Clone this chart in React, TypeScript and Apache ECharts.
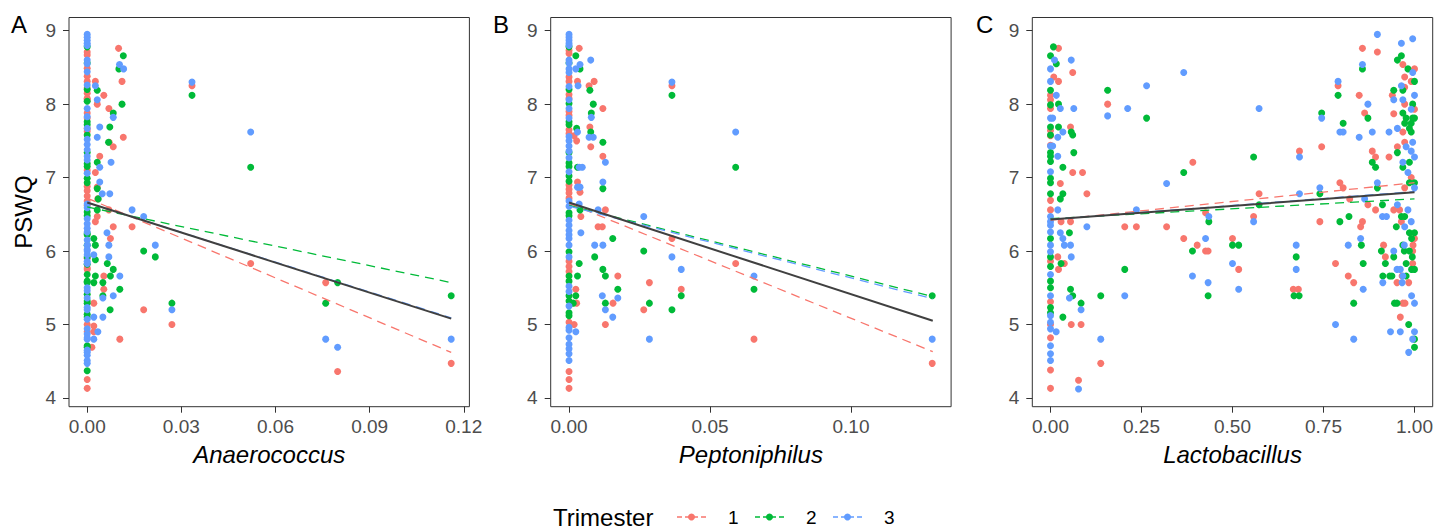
import React, { useEffect, useRef } from "react";
import * as echarts from "echarts";

const FONT = "'Liberation Sans', Arial, Helvetica, sans-serif";

// ---------- labels / scales ----------
const trimesters = ["1", "2", "3"];
const trimesterColors = ["#F8766D", "#00BA38", "#619CFF"];
const panelLetters = ["A", "B", "C"];
const genusNames = ["Anaerococcus", "Peptoniphilus", "Lactobacillus"];
const yName = "PSWQ";
const legendTitle = "Trimester";
const yTicks = [4, 5, 6, 7, 8, 9];
const yRange = [3.88, 9.18];
const xTicksA = [0, 0.03, 0.06, 0.09, 0.12];
const xTicksB = [0, 0.05, 0.1];
const xTicksC = [0, 0.25, 0.5, 0.75, 1];
const xRangeA = [-0.0058, 0.1218];
const xRangeB = [-0.0065, 0.1355];
const xRangeC = [-0.05, 1.05];

// ---------- Panel A : Anaerococcus ----------
const zeroA1 = [8.71, 8.67, 8.49, 8.38, 8.31, 8.22, 8.15, 8.08, 8.06, 7.88, 7.81, 7.67, 7.63, 7.1, 6.88, 6.82, 6.75, 6.68, 6.62, 5.9, 5.77, 5.75, 5.0, 4.9, 4.25, 4.13];
const zeroA2 = [8.78, 8.56, 8.2, 8.04, 7.76, 7.72, 7.58, 7.34, 7.19, 7.15, 6.99, 6.93, 6.53, 6.48, 6.24, 6.22, 6.08, 5.92, 5.82, 5.68, 5.59, 5.57, 5.41, 5.32, 5.29, 5.14, 5.1, 4.71, 4.69, 4.37];
const zeroA3 = [8.95, 8.91, 8.87, 8.83, 8.8, 8.6, 8.55, 8.44, 8.26, 7.94, 7.83, 7.67, 7.52, 7.45, 7.38, 7.29, 7.24, 7.06, 6.64, 6.59, 6.44, 6.37, 6.31, 6.26, 6.15, 6.08, 6.02, 6.0, 5.95, 5.86, 5.83, 5.5, 5.46, 5.36, 5.23, 5.2, 5.07, 4.94, 4.87, 4.82, 4.8, 4.65, 4.62, 4.58, 4.51, 4.47];
const ptsA1 = [[0.0026, 8.31], [0.0053, 8.12], [0.0032, 8.0], [0.0069, 7.94], [0.0026, 7.07], [0.004, 7.29], [0.0032, 6.87], [0.0034, 6.71], [0.0069, 6.56], [0.0032, 6.47], [0.0026, 6.4], [0.0083, 6.33], [0.0074, 6.17], [0.0053, 5.66], [0.0053, 5.48], [0.0021, 5.29], [0.0021, 4.98], [0.0015, 4.69], [0.0021, 4.9], [0.01, 8.76], [0.0111, 8.31], [0.0115, 7.55], [0.007, 7.48], [0.0083, 7.42], [0.0143, 6.33], [0.0104, 4.8], [0.018, 5.2], [0.027, 5.0], [0.0334, 8.25], [0.0521, 5.83], [0.076, 5.57], [0.0798, 4.36], [0.116, 4.47]];
const ptsA2 = [[0.0032, 8.19], [0.0083, 7.88], [0.0072, 7.69], [0.0068, 7.48], [0.0032, 7.21], [0.0032, 6.85], [0.0035, 6.71], [0.0032, 6.56], [0.0021, 6.17], [0.0026, 6.08], [0.0026, 5.88], [0.0064, 5.83], [0.0083, 5.75], [0.0074, 5.66], [0.0026, 5.66], [0.0021, 5.57], [0.005, 5.57], [0.0104, 5.48], [0.005, 5.39], [0.0073, 5.2], [0.0115, 8.66], [0.0101, 8.48], [0.0111, 8.0], [0.0334, 8.12], [0.0521, 7.14], [0.018, 6.0], [0.0217, 5.92], [0.027, 5.29], [0.076, 5.29], [0.0798, 5.57], [0.116, 5.39]];
const ptsA3 = [[0.0026, 8.25], [0.0032, 8.06], [0.0083, 7.82], [0.004, 7.69], [0.0032, 7.55], [0.0076, 7.21], [0.004, 7.14], [0.004, 6.94], [0.0048, 6.78], [0.0072, 6.78], [0.0063, 6.25], [0.0069, 6.08], [0.0069, 5.92], [0.0021, 5.95], [0.0104, 5.66], [0.0083, 5.39], [0.005, 5.36], [0.005, 5.1], [0.0021, 5.1], [0.0034, 4.9], [0.0021, 4.8], [0.0103, 8.54], [0.0116, 8.48], [0.0334, 8.3], [0.0521, 7.62], [0.0143, 6.56], [0.018, 6.47], [0.0217, 6.08], [0.027, 5.2], [0.076, 4.8], [0.0798, 4.69], [0.116, 4.8]];
const fitA1 = [[0, 6.72], [0.116, 4.62]];
const fitA2 = [[0, 6.6], [0.116, 5.57]];
const fitA3 = [[0, 6.66], [0.116, 5.09]];
const fitAAll = [[0, 6.66], [0.116, 5.08]];

// ---------- Panel B : Peptoniphilus ----------
const zeroB1 = [8.73, 8.69, 8.37, 8.31, 8.13, 8.08, 7.9, 7.85, 7.65, 7.6, 6.9, 6.84, 6.79, 6.72, 5.86, 5.79, 5.72, 5.03, 4.36, 4.25, 4.13];
const zeroB2 = [8.78, 8.56, 8.2, 8.01, 7.76, 7.72, 7.34, 7.2, 7.15, 7.02, 6.95, 6.52, 6.48, 5.99, 5.66, 5.59, 5.39, 5.32, 5.16, 5.12];
const zeroB3 = [8.95, 8.91, 8.87, 8.83, 8.8, 8.6, 8.56, 8.48, 8.43, 8.24, 8.06, 7.94, 7.81, 7.56, 7.5, 7.43, 7.36, 7.27, 7.08, 6.68, 6.61, 6.42, 6.35, 6.28, 6.22, 6.17, 6.08, 5.92, 5.52, 5.45, 5.25, 4.96, 4.92, 4.82, 4.73, 4.67, 4.6, 4.51];
const ptsB1 = [[0.0036, 8.76], [0.003, 8.31], [0.0071, 8.25], [0.0089, 8.31], [0.012, 7.94], [0.0074, 7.69], [0.0077, 7.42], [0.012, 7.29], [0.0129, 6.56], [0.0103, 6.33], [0.0118, 6.33], [0.0018, 7.57], [0.0027, 7.5], [0.003, 6.94], [0.0039, 6.8], [0.0042, 6.47], [0.0024, 5.48], [0.0027, 5.29], [0.0018, 5.0], [0.0156, 5.29], [0.0129, 5.0], [0.0173, 5.66], [0.0365, 8.25], [0.0365, 6.17], [0.0591, 5.83], [0.0656, 4.8], [0.0285, 5.57], [0.0265, 5.2], [0.0398, 5.48], [0.1288, 4.47]];
const ptsB2 = [[0.0024, 8.66], [0.0039, 8.48], [0.0074, 8.19], [0.0086, 8.0], [0.0079, 7.88], [0.0077, 7.62], [0.012, 7.48], [0.012, 6.85], [0.0155, 6.17], [0.0027, 7.67], [0.003, 7.14], [0.0039, 6.56], [0.0036, 5.83], [0.003, 5.66], [0.0024, 5.39], [0.0015, 5.29], [0.0091, 5.92], [0.012, 5.75], [0.0129, 5.66], [0.0129, 5.29], [0.0173, 5.48], [0.0365, 8.12], [0.0591, 7.14], [0.0265, 6.0], [0.0285, 5.29], [0.0365, 5.2], [0.0398, 5.39], [0.0656, 5.48], [0.1288, 5.39]];
const ptsB3 = [[0.0039, 8.54], [0.0024, 8.48], [0.0077, 8.6], [0.0032, 8.25], [0.0079, 7.82], [0.0071, 7.55], [0.0086, 7.55], [0.0129, 7.21], [0.012, 6.94], [0.0103, 6.56], [0.0091, 6.08], [0.012, 6.08], [0.003, 7.62], [0.0036, 7.14], [0.0047, 7.14], [0.003, 6.87], [0.0039, 6.87], [0.0036, 6.64], [0.0042, 6.25], [0.0118, 5.39], [0.0129, 5.2], [0.0155, 5.1], [0.0173, 5.36], [0.0024, 4.9], [0.0365, 8.3], [0.0591, 7.62], [0.0265, 6.47], [0.0365, 5.92], [0.0398, 5.75], [0.0656, 5.66], [0.0285, 4.8], [0.1288, 4.8]];
const fitB1 = [[0, 6.65], [0.129, 4.63]];
const fitB2 = [[0, 6.62], [0.129, 5.38]];
const fitB3 = [[0, 6.61], [0.129, 5.35]];
const fitBAll = [[0, 6.66], [0.129, 5.05]];

// ---------- Panel C : Lactobacillus ----------
const zeroC1 = [8.12, 8.06, 7.94, 7.64, 7.57, 7.44, 6.69, 6.56, 5.86, 5.31, 5.0, 4.82, 4.38, 4.13];
const zeroC2 = [8.66, 8.19, 7.99, 7.69, 7.58, 7.34, 7.29, 7.22, 6.99, 6.93, 6.78, 6.17, 5.92, 5.79, 5.59, 5.5, 5.23, 5.16];
const zeroC3 = [8.48, 8.31, 7.81, 7.43, 7.08, 6.47, 6.4, 6.35, 6.26, 6.08, 5.99, 5.68, 5.39, 5.12, 5.03, 4.94, 4.71, 4.6, 4.51];
const ptsC1 = [[0.022, 8.76], [0.009, 8.37], [0.022, 8.31], [0.061, 8.43], [0.055, 7.69], [0.061, 7.07], [0.088, 7.07], [0.1, 6.78], [0.027, 6.92], [0.029, 6.4], [0.055, 6.4], [0.038, 5.83], [0.022, 5.75], [0.057, 5.0], [0.084, 5.0], [0.138, 4.47], [0.077, 4.24], [0.157, 8.0], [0.02, 5.92], [0.204, 6.33], [0.236, 6.33], [0.319, 6.33], [0.366, 6.17], [0.391, 7.21], [0.403, 6.08], [0.426, 6.0], [0.433, 6.0], [0.426, 6.52], [0.5, 6.17], [0.517, 5.75], [0.558, 6.47], [0.573, 6.78], [0.667, 5.48], [0.681, 5.48], [0.684, 7.36], [0.74, 6.4], [0.745, 7.42], [0.783, 5.83], [0.79, 8.25], [0.795, 6.93], [0.804, 6.86], [0.818, 5.66], [0.822, 6.71], [0.833, 5.57], [0.848, 8.12], [0.852, 6.33], [0.857, 6.4], [0.857, 8.76], [0.863, 7.88], [0.872, 6.63], [0.884, 7.36], [0.893, 7.28], [0.893, 6.56], [0.898, 8.71], [0.915, 6.08], [0.92, 5.92], [0.93, 7.28], [0.939, 8.12], [0.943, 7.87], [0.943, 6.56], [0.952, 5.57], [0.953, 7.42], [0.959, 6.56], [0.961, 5.1], [0.964, 6.4], [0.966, 5.66], [0.968, 8.54], [0.968, 7.62], [0.968, 5.29], [0.973, 8.37], [0.973, 8.23], [0.973, 8.0], [0.973, 7.48], [0.973, 6.86], [0.974, 5.29], [0.984, 5.57], [0.991, 8.31], [0.991, 7.0], [0.995, 6.0], [0.995, 5.83], [0.996, 6.08], [1.0, 8.48], [1.0, 7.93], [1.0, 6.17]];
const ptsC2 = [[0.008, 8.78], [0.016, 8.55], [0.022, 8.0], [0.022, 7.69], [0.057, 7.62], [0.061, 7.58], [0.064, 7.34], [0.034, 7.14], [0.034, 6.78], [0.027, 6.71], [0.052, 6.25], [0.029, 5.83], [0.055, 5.48], [0.061, 5.39], [0.084, 5.29], [0.034, 5.1], [0.138, 5.39], [0.157, 8.19], [0.204, 5.75], [0.264, 7.81], [0.366, 7.07], [0.39, 6.0], [0.433, 5.39], [0.435, 6.4], [0.5, 6.08], [0.517, 6.08], [0.558, 7.28], [0.573, 6.63], [0.669, 5.39], [0.683, 5.39], [0.675, 5.92], [0.74, 6.78], [0.745, 7.88], [0.79, 8.12], [0.795, 6.4], [0.804, 7.74], [0.82, 6.47], [0.833, 5.29], [0.854, 6.08], [0.857, 8.48], [0.859, 5.83], [0.872, 7.81], [0.884, 7.21], [0.893, 7.14], [0.898, 6.86], [0.909, 6.0], [0.912, 6.63], [0.913, 5.66], [0.92, 5.83], [0.932, 5.66], [0.938, 5.66], [0.943, 8.19], [0.943, 5.92], [0.945, 5.29], [0.95, 6.33], [0.952, 5.29], [0.953, 8.6], [0.953, 7.34], [0.964, 8.66], [0.964, 6.47], [0.968, 8.19], [0.968, 7.88], [0.968, 7.14], [0.968, 6.08], [0.972, 6.0], [0.973, 7.74], [0.973, 6.47], [0.977, 7.81], [0.977, 5.83], [0.977, 5.66], [0.982, 8.48], [0.984, 5.0], [0.986, 7.67], [0.986, 7.21], [0.986, 6.93], [0.986, 6.25], [0.986, 6.0], [0.991, 7.74], [0.991, 7.62], [0.992, 6.17], [0.992, 5.75], [0.994, 5.92], [0.995, 8.0], [0.995, 7.81], [1.0, 8.31], [1.0, 7.81], [1.0, 6.93], [1.0, 6.25], [1.0, 5.75], [1.0, 4.8], [1.0, 4.69]];
const ptsC3 = [[0.011, 8.6], [0.016, 8.12], [0.006, 7.81], [0.006, 7.43], [0.02, 7.29], [0.057, 8.6], [0.027, 7.94], [0.064, 7.94], [0.034, 7.62], [0.02, 7.55], [0.02, 6.56], [0.1, 6.33], [0.027, 6.25], [0.034, 6.17], [0.038, 6.08], [0.055, 6.08], [0.057, 5.92], [0.052, 5.36], [0.084, 5.2], [0.0156, 4.9], [0.138, 4.8], [0.077, 4.12], [0.157, 7.84], [0.204, 5.39], [0.212, 7.94], [0.236, 6.56], [0.264, 8.25], [0.319, 6.92], [0.366, 8.43], [0.39, 5.66], [0.426, 6.17], [0.433, 5.57], [0.435, 6.47], [0.5, 5.83], [0.517, 5.48], [0.558, 6.4], [0.573, 7.94], [0.675, 6.08], [0.675, 5.75], [0.684, 7.28], [0.684, 6.78], [0.74, 6.86], [0.745, 7.81], [0.783, 5.0], [0.79, 8.31], [0.795, 7.62], [0.804, 7.62], [0.818, 6.08], [0.833, 4.8], [0.848, 7.55], [0.852, 6.17], [0.857, 8.54], [0.859, 5.48], [0.863, 6.71], [0.872, 8.0], [0.884, 7.62], [0.898, 8.95], [0.898, 6.93], [0.912, 6.47], [0.913, 5.57], [0.923, 6.47], [0.93, 7.62], [0.934, 4.9], [0.943, 8.06], [0.943, 6.0], [0.952, 5.75], [0.953, 7.67], [0.953, 6.63], [0.961, 5.75], [0.961, 4.9], [0.964, 8.83], [0.964, 8.25], [0.966, 5.57], [0.968, 8.06], [0.968, 7.21], [0.968, 5.66], [0.972, 6.08], [0.973, 6.33], [0.977, 7.42], [0.982, 7.07], [0.982, 6.56], [0.984, 4.62], [0.991, 7.93], [0.991, 7.36], [0.991, 6.4], [0.992, 5.39], [0.995, 8.89], [0.995, 8.43], [0.995, 7.48], [0.995, 4.8], [1.0, 8.12], [1.0, 7.28], [1.0, 6.86], [1.0, 5.29], [1.0, 4.9]];
const fitC1 = [[0, 6.42], [1, 6.93]];
const fitC2 = [[0, 6.44], [1, 6.71]];
const fitC3 = [[0, 6.43], [1, 6.81]];
const fitCAll = [[0, 6.43], [1, 6.8]];

// ---------- layout ----------
const W = 1437;
const H = 529;
const gridLefts = [69, 550.7, 1032.3];
const gridTop = 17.5;
const gridWidth = 400.4;
const gridHeight = 389.2;
const letterX = [11, 493, 976];

const panels = [
  { zero: [zeroA1, zeroA2, zeroA3], pts: [ptsA1, ptsA2, ptsA3], fits: [fitA1, fitA2, fitA3], all: fitAAll, ticks: xTicksA, range: xRangeA },
  { zero: [zeroB1, zeroB2, zeroB3], pts: [ptsB1, ptsB2, ptsB3], fits: [fitB1, fitB2, fitB3], all: fitBAll, ticks: xTicksB, range: xRangeB },
  { zero: [zeroC1, zeroC2, zeroC3], pts: [ptsC1, ptsC2, ptsC3], fits: [fitC1, fitC2, fitC3], all: fitCAll, ticks: xTicksC, range: xRangeC },
];

function buildOption() {
  const grid: any[] = [];
  const xAxis: any[] = [];
  const yAxis: any[] = [];
  const series: any[] = [];
  const graphic: any[] = [];

  panels.forEach((p, i) => {
    grid.push({
      left: gridLefts[i], top: gridTop, width: gridWidth, height: gridHeight,
      show: true, borderColor: "#333333", borderWidth: 1, backgroundColor: "transparent",
      containLabel: false,
    });
    xAxis.push({
      type: "value", gridIndex: i, min: p.range[0], max: p.range[1],
      axisLine: { show: false, onZero: false },
      splitLine: { show: false },
      axisTick: { show: true, length: 6, customValues: p.ticks, lineStyle: { color: "#333333", width: 1 } },
      axisLabel: {
        customValues: p.ticks, color: "#4D4D4D", fontSize: 19, fontFamily: FONT, margin: 10,
        formatter: (v: number) => v.toFixed(2),
      },
      name: genusNames[i], nameLocation: "middle", nameGap: 36,
      nameTextStyle: { fontStyle: "italic", fontSize: 24, fontFamily: FONT, color: "#000000" },
    });
    yAxis.push({
      type: "value", gridIndex: i, min: yRange[0], max: yRange[1],
      axisLine: { show: false, onZero: false },
      splitLine: { show: false },
      axisTick: { show: true, length: 6, customValues: yTicks, lineStyle: { color: "#333333", width: 1 } },
      axisLabel: {
        customValues: yTicks, color: "#4D4D4D", fontSize: 19, fontFamily: FONT, margin: 13,
        formatter: (v: number) => String(Math.round(v)),
      },
      name: i === 0 ? yName : "", nameLocation: "middle", nameGap: 34, nameRotate: 90,
      nameTextStyle: { fontSize: 24, fontFamily: FONT, color: "#000000" },
    });
    trimesters.forEach((t, k) => {
      const data = p.zero[k].map((y) => [0, y]).concat(p.pts[k]);
      series.push({
        type: "scatter", name: t, xAxisIndex: i, yAxisIndex: i, data,
        symbol: "circle", symbolSize: 7, silent: true,
        itemStyle: { color: trimesterColors[k], opacity: 1 },
        z: 2,
      });
    });
    trimesters.forEach((t, k) => {
      series.push({
        type: "line", name: "fit" + t, xAxisIndex: i, yAxisIndex: i, data: p.fits[k],
        showSymbol: false, symbol: "none", silent: true,
        lineStyle: { color: trimesterColors[k], width: 1.3, type: [9, 6] },
        z: 3,
      });
    });
    series.push({
      type: "line", name: "overall", xAxisIndex: i, yAxisIndex: i, data: p.all,
      showSymbol: false, symbol: "none", silent: true,
      lineStyle: { color: "#404040", width: 2 },
      z: 4,
    });
    graphic.push({
      type: "text", left: letterX[i], top: 12,
      style: { text: panelLetters[i], fontSize: 24, fontFamily: FONT, fill: "#000000" },
    });
  });

  // legend drawn as graphics
  const legY = 517;
  graphic.push({
    type: "text", x: 553, y: legY,
    style: { text: legendTitle, fontSize: 24, fontFamily: FONT, fill: "#000000", verticalAlign: "middle", textVerticalAlign: "middle" },
  });
  trimesters.forEach((t, k) => {
    const x1 = 677 + k * 78;
    graphic.push({
      type: "line", shape: { x1, y1: legY, x2: x1 + 29, y2: legY },
      style: { stroke: trimesterColors[k], lineWidth: 1.3, lineDash: [5, 3] },
    });
    graphic.push({
      type: "circle", shape: { cx: x1 + 14.5, cy: legY, r: 3.5 },
      style: { fill: trimesterColors[k] },
    });
    graphic.push({
      type: "text", x: x1 + 51, y: legY,
      style: { text: t, fontSize: 19, fontFamily: FONT, fill: "#000000", verticalAlign: "middle", textVerticalAlign: "middle" },
    });
  });

  return {
    animation: false,
    backgroundColor: "#ffffff",
    textStyle: { fontFamily: FONT },
    grid, xAxis, yAxis, series, graphic,
  };
}

export default function App() {
  const ref = useRef<HTMLDivElement>(null);
  useEffect(() => {
    if (!ref.current) return;
    const chart = echarts.init(ref.current, undefined, { renderer: "svg" });
    chart.setOption(buildOption() as any);
    return () => chart.dispose();
  }, []);
  return (
    <div
      ref={ref}
      style={{ position: "fixed", left: 0, top: 0, width: W, height: H, background: "#ffffff" }}
    />
  );
}
